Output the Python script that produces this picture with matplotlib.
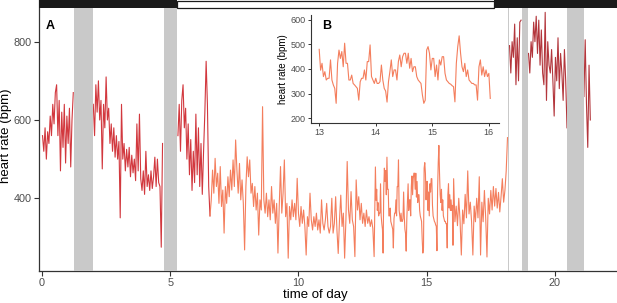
import numpy as np
import matplotlib
matplotlib.use('Agg')
import matplotlib.pyplot as plt
from matplotlib.patches import Rectangle

plt.rcParams['font.family'] = ['Liberation Sans', 'DejaVu Sans']

step = 0.05
fine_step = 0.025

# first part of the recording (red)
red1_start = 0.02
red1_hr = [560, 520, 580, 500, 570, 540, 610, 560, 640, 590,
           670, 690, 560, 650, 470, 620, 530, 640, 490, 610,
           540, 630, 480, 600, 670]
red2_start = 2.00
red2_hr = [640, 560, 690, 620, 700, 600, 650, 475, 640, 580,
           710, 600, 630, 540, 590, 520, 580, 505, 560, 500,
           545, 350, 640, 500, 540, 470, 525, 480, 530, 455,
           510, 465, 500, 445, 590, 470, 615, 450, 420, 470,
           410, 520, 430, 460, 420, 470, 425, 455, 505, 430,
           500, 440, 430, 275, 540]
red3_start = 5.30
red3_hr = [560, 640, 520, 650, 690, 580, 630, 500, 590, 460,
           550, 420, 520, 440, 615, 460, 580, 430, 540, 410,
           520, 620, 750, 640, 430, 355]

# middle part (salmon), the 13-16 h stretch is also the inset
sal1_start = 6.60
sal1_hr = [396, 472, 413, 502, 430, 464, 387, 481, 379, 421,
           311, 430, 387, 455, 404, 472, 421, 498, 430, 549,
           472, 413, 489, 396, 447, 387, 268, 430, 506, 455,
           498, 413, 438, 379, 430, 370, 413, 306, 396, 370,
           634, 396, 362, 413, 353, 396, 345, 430, 362, 396,
           336, 387, 260, 379, 481, 362, 413, 498, 353, 387,
           247, 379, 345, 396, 353, 387, 345, 451, 362, 328,
           379, 336, 370, 328, 255, 353, 328, 413, 345, 319,
           353, 328, 362, 319, 345, 311, 396, 336, 319, 345,
           387, 328, 311,
           328, 400, 311, 336, 404, 319, 259, 345, 408, 328,
           362, 247, 345, 494, 370, 336, 417, 345, 328, 251,
           447, 370, 404, 345, 387, 336, 362, 328, 370, 336,
           353, 328, 345, 323, 251]
inset_start = 13.0
inset_hr = [480, 395, 423, 369, 389, 355, 362, 362, 437, 355,
            335, 321, 260, 423, 477, 443, 471, 409, 505, 423,
            423, 355, 355, 375, 341, 335, 328, 321, 273, 348,
            362, 362, 396, 355, 430, 430, 498, 369, 355, 341,
            362, 341, 341, 348, 416, 355, 321, 310, 265, 348,
            389, 437, 369, 396, 396, 355, 430, 457, 409, 450,
            464, 464, 423, 464, 403, 443, 389, 409, 409, 369,
            355, 348, 341, 294, 260, 273, 477, 491, 464, 396,
            443, 443, 369, 416, 355, 437, 416, 450, 450, 382,
            355, 348, 341, 338, 332, 328, 266, 423, 491, 535,
            464, 409, 389, 423, 369, 396, 355, 348, 341, 341,
            335, 335, 273, 409, 437, 375, 409, 369, 396, 369,
            382, 280]
sal2_start = 16.05
sal2_hr = [450, 340, 380, 330, 400, 345, 255, 370, 335, 410,
           350, 470, 360, 390, 340, 255, 380, 340, 400, 350,
           455, 255, 390, 340, 420, 350, 250, 400, 360, 420,
           370, 430, 380, 425, 375, 415, 365, 405, 450, 390,
           420, 470, 555]

# last part (dark red)
last1_start = 18.23
last1_hr = [790, 720, 800, 760, 845, 690, 810, 700, 850, 855]
last2_start = 18.97
last2_hr = [770, 720, 800, 760, 850, 800, 865, 770, 855, 740,
            830, 720, 690, 875, 650, 800, 740, 720, 780, 700,
            610, 760, 700, 810, 680, 770, 720, 650, 780, 700, 580]
last3_start = 21.13
last3_hr = [660, 805, 640, 530, 740, 600]

# gaps in the recording and light period
gap_start = [1.25, 4.74, 18.16, 18.73, 20.47]
gap_end = [2.00, 5.28, 18.22, 18.96, 21.12]
light_on = 5.28
light_off = 17.62

col_red = '#d2383e'
col_sal = '#f47e5d'
col_last = '#b3363c'
col_gap = '#c9c9c9'
txt = '#4d4d4d'


def times(start, vals, dt=step):
    return start + dt * np.arange(len(vals))


xmin, xmax = -0.117, 22.42
ymin, ymax = 215, 906.5
bar_y = 886

fig = plt.figure(figsize=(6.17, 3.03), dpi=100)
ax = fig.add_axes([0.0632, 0.1066, 0.9368, 0.8934])

for s, v in [(red1_start, red1_hr), (red2_start, red2_hr), (red3_start, red3_hr)]:
    ax.plot(times(s, v), v, color=col_red, lw=0.8)

t_sal = np.concatenate([times(red3_start, red3_hr)[-1:], times(sal1_start, sal1_hr),
                        times(inset_start, inset_hr, fine_step), times(sal2_start, sal2_hr)])
v_sal = np.concatenate([red3_hr[-1:], sal1_hr, inset_hr, sal2_hr])
ax.plot(t_sal, v_sal, color=col_sal, lw=0.8)

for s, v in [(last1_start, last1_hr), (last2_start, last2_hr), (last3_start, last3_hr)]:
    ax.plot(times(s, v), v, color=col_last, lw=0.8)

band_top = (bar_y - ymin) / (ymax - ymin)
for a, b in zip(gap_start, gap_end):
    ax.axvspan(a, b, ymin=0, ymax=band_top, color=col_gap, lw=0, zorder=3)

# light / dark bar along the top
ax.add_patch(Rectangle((xmin, bar_y), light_on - xmin, ymax - bar_y,
                       facecolor='#1a1a1a', edgecolor='none', zorder=4, clip_on=False))
ax.add_patch(Rectangle((light_off, bar_y), xmax - light_off, ymax - bar_y,
                       facecolor='#1a1a1a', edgecolor='none', zorder=4, clip_on=False))
ax.add_patch(Rectangle((light_on, bar_y + 1), light_off - light_on, ymax - bar_y - 3,
                       facecolor='white', edgecolor='#1a1a1a', lw=0.9, zorder=4))

ax.set_xlim(xmin, xmax)
ax.set_ylim(ymin, ymax)
ax.set_xticks([0, 5, 10, 15, 20])
ax.set_yticks([400, 600, 800])
for side in ['top', 'right']:
    ax.spines[side].set_visible(False)
for side in ['left', 'bottom']:
    ax.spines[side].set_color('#333333')
    ax.spines[side].set_linewidth(0.9)
ax.tick_params(length=3.5, width=0.8, color='#333333', labelsize=7.8, labelcolor=txt, pad=2)
ax.set_xlabel('time of day', fontsize=9.5)
ax.set_ylabel('heart rate (bpm)', fontsize=9.5)
ax.xaxis.set_label_coords(0.4775, -0.068)
ax.yaxis.set_label_coords(-0.047, 0.5)
ax.text(0.011, 0.905, 'A', transform=ax.transAxes, fontsize=9, fontweight='bold', va='center')

# inset: zoom on 13-16 h
axin = fig.add_axes([0.5045, 0.595, 0.3043, 0.3556])
axin.set_facecolor('white')
axin.plot(times(inset_start, inset_hr, fine_step), inset_hr, color=col_sal, lw=0.8)
axin.set_xlim(12.86, 16.18)
axin.set_ylim(181, 620)
axin.set_xticks([13, 14, 15, 16])
axin.set_yticks([200, 300, 400, 500, 600])
for side in ['top', 'right']:
    axin.spines[side].set_visible(False)
for side in ['left', 'bottom']:
    axin.spines[side].set_color('#333333')
    axin.spines[side].set_linewidth(0.8)
axin.tick_params(length=2.5, width=0.7, color='#333333', labelsize=6.5, labelcolor=txt, pad=1.5)
axin.set_ylabel('heart rate (bpm)', fontsize=7, labelpad=2)
axin.text(0.06, 0.9, 'B', transform=axin.transAxes, fontsize=9, fontweight='bold', va='center')

fig.savefig('out.png', dpi=100)
